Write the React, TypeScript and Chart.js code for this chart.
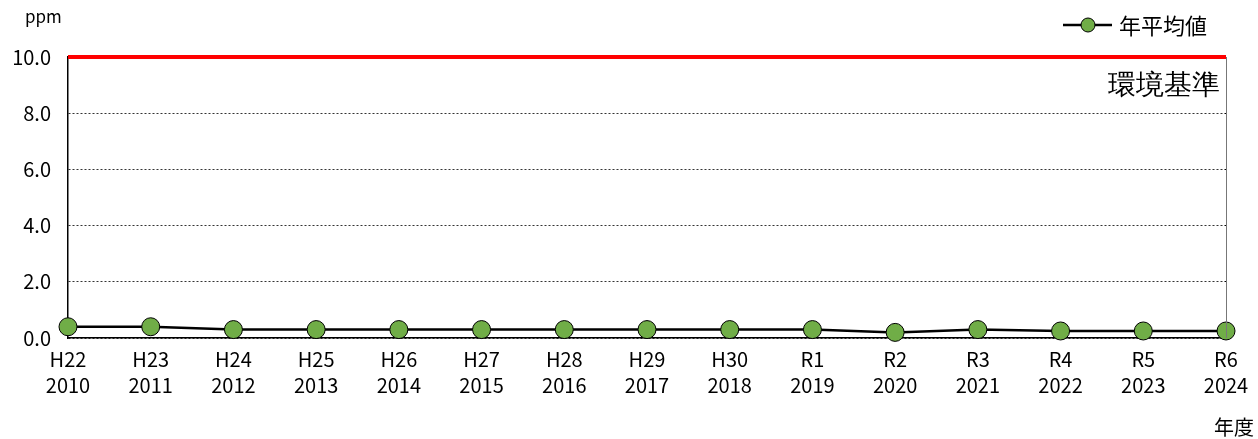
import React, { useEffect, useRef } from "react";
import { Chart, registerables } from "chart.js";

Chart.register(...registerables);

const categories: string[][] = [
  ["H22", "2010"], ["H23", "2011"], ["H24", "2012"], ["H25", "2013"], ["H26", "2014"],
  ["H27", "2015"], ["H28", "2016"], ["H29", "2017"], ["H30", "2018"], ["R1", "2019"],
  ["R2", "2020"], ["R3", "2021"], ["R4", "2022"], ["R5", "2023"], ["R6", "2024"],
];
const annualMean: number[] = [0.4, 0.4, 0.3, 0.3, 0.3, 0.3, 0.3, 0.3, 0.3, 0.3, 0.2, 0.3, 0.25, 0.25, 0.25];
const standardValue = 10;
const standard: number[] = categories.map(() => standardValue);
const seriesName = "年平均値";
const standardLabel = "環境基準";
const yUnit = "ppm";
const xTitle = "年度";

const FONT = "'Noto Sans CJK JP', 'Noto Sans', sans-serif";

export default function App() {
  const ref = useRef<HTMLCanvasElement | null>(null);
  useEffect(() => {
    document.body.style.margin = "0";
    const deco = {
      id: "deco",
      afterDraw(chart: any) {
        const { ctx, chartArea } = chart;
        ctx.save();
        // right border
        ctx.strokeStyle = "#777";
        ctx.lineWidth = 1;
        ctx.beginPath();
        ctx.moveTo(chartArea.right + 0.5, chartArea.top);
        ctx.lineTo(chartArea.right + 0.5, chartArea.bottom);
        ctx.stroke();
        // unit
        ctx.fillStyle = "#000";
        ctx.font = `17px ${FONT}`;
        ctx.textAlign = "left";
        ctx.textBaseline = "middle";
        ctx.fillText(yUnit, 25, 17);
        // x title
        ctx.font = `20px ${FONT}`;
        ctx.textAlign = "right";
        ctx.fillText(xTitle, 1254, 427);
        // standard label
        ctx.font = `28px serif`;
        ctx.textAlign = "right";
        ctx.fillText(standardLabel, 1220, 87);
        // legend
        ctx.strokeStyle = "#000";
        ctx.lineWidth = 2.5;
        ctx.beginPath();
        ctx.moveTo(1063, 25);
        ctx.lineTo(1112, 25);
        ctx.stroke();
        ctx.beginPath();
        ctx.arc(1088, 25, 7, 0, Math.PI * 2);
        ctx.fillStyle = "#70AD47";
        ctx.fill();
        ctx.lineWidth = 1;
        ctx.stroke();
        ctx.fillStyle = "#000";
        ctx.font = `22px ${FONT}`;
        ctx.textAlign = "left";
        ctx.fillText(seriesName, 1119, 26);
        ctx.restore();
      },
    };
    const chart = new Chart(ref.current as HTMLCanvasElement, {
      type: "line",
      data: {
        labels: categories,
        datasets: [
          {
            label: standardLabel,
            data: standard,
            borderColor: "#FF0000",
            borderWidth: 4,
            pointRadius: 0,
            order: 2,
            clip: false as any,
          },
          {
            label: seriesName,
            data: annualMean,
            borderColor: "#000",
            borderWidth: 2.5,
            pointRadius: 9,
            pointBackgroundColor: "#70AD47",
            pointBorderColor: "#000",
            pointBorderWidth: 1,
            order: 1,
            clip: false as any,
          },
        ],
      },
      plugins: [deco],
      options: {
        animation: false,
        responsive: false,
        maintainAspectRatio: false,
        layout: { padding: { left: 0, right: 32, top: 57, bottom: 0 } },
        plugins: { legend: { display: false }, tooltip: { enabled: false } },
        scales: {
          x: {
            offset: false,
            grid: { display: false },
            border: { display: true, color: "#000", width: 1.5 },
            ticks: {
              color: "#000",
              font: { family: FONT, size: 20, lineHeight: 1.3 },
              maxRotation: 0,
              autoSkip: false,
              padding: 0,
            },
            afterFit(scale: any) {
              scale.height = 101;
            },
          },
          y: {
            min: 0,
            max: 10,
            grid: {
              color: "#000",
              lineWidth: 0.8,
              drawTicks: false,
            },
            border: { display: true, color: "#000", width: 1.5, dash: [2, 2] },
            ticks: {
              stepSize: 2,
              color: "#000",
              font: { family: FONT, size: 20 },
              padding: 17,
              callback: (v: any) => Number(v).toFixed(1),
            },
            afterFit(scale: any) {
              scale.width = 68;
            },
          },
        },
      } as any,
    });
    return () => chart.destroy();
  }, []);
  return (
    <div style={{ position: "absolute", left: 0, top: 0, width: 1258, height: 439 }}>
      <canvas ref={ref} width={1258} height={439} style={{ width: 1258, height: 439 }} />
    </div>
  );
}
